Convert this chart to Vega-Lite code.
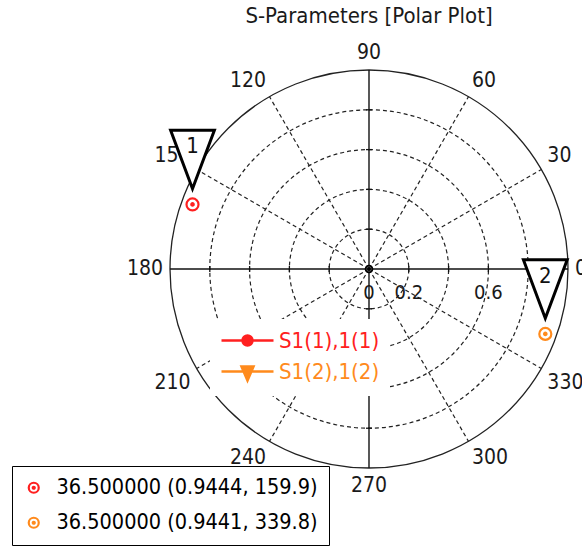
{
  "$schema": "https://vega.github.io/schema/vega-lite/v6.json",
  "width": 582,
  "height": 509,
  "autosize": {"type": "none"},
  "padding": {"top": 40, "left": 0, "right": 0, "bottom": 0},
  "background": "white",
  "title": {"text": "S-Parameters [Polar Plot]", "frame": "group", "anchor": "middle", "dx": 78, "offset": 12, "fontSize": 22, "fontWeight": "normal", "color": "#1a1a1a"},
  "config": {"view": {"stroke": null}, "font": "'DejaVu Sans Condensed', 'Open Sans', sans-serif"},
  "datasets": {
    "circles": [{"r": 0.2}, {"r": 0.4}, {"r": 0.6}, {"r": 0.8}],
    "outer": [{"r": 1}],
    "spokes": [
      {"x": 0, "y": 0, "x2": 0.866, "y2": 0.5},
      {"x": 0, "y": 0, "x2": 0.5, "y2": 0.866},
      {"x": 0, "y": 0, "x2": -0.5, "y2": 0.866},
      {"x": 0, "y": 0, "x2": -0.866, "y2": 0.5},
      {"x": 0, "y": 0, "x2": -0.866, "y2": -0.5},
      {"x": 0, "y": 0, "x2": -0.5, "y2": -0.866},
      {"x": 0, "y": 0, "x2": 0.5, "y2": -0.866},
      {"x": 0, "y": 0, "x2": 0.866, "y2": -0.5}
    ],
    "axes": [{"x": -1, "y": 0, "x2": 1, "y2": 0}, {"x": 0, "y": -1, "x2": 0, "y2": 1}],
    "ticks": [{"t": -0.8}, {"t": -0.6}, {"t": -0.4}, {"t": -0.2}, {"t": 0.2}, {"t": 0.4}, {"t": 0.6}, {"t": 0.8}],
    "origin": [{"x": 0, "y": 0}],
    "angles": [
      {"angle": 0, "label": "0"}, {"angle": 30, "label": "30"}, {"angle": 60, "label": "60"},
      {"angle": 90, "label": "90"}, {"angle": 120, "label": "120"}, {"angle": 150, "label": "150"},
      {"angle": 180, "label": "180"}, {"angle": 210, "label": "210"}, {"angle": 240, "label": "240"},
      {"angle": 270, "label": "270"}, {"angle": 300, "label": "300"}, {"angle": 330, "label": "330"}
    ],
    "rlabels": [{"r": 0, "label": "0"}, {"r": 0.2, "label": "0.2"}, {"r": 0.6, "label": "0.6"}],
    "traces": [
      {"series": "S1(1),1(1)", "x": -0.8869, "y": 0.3246},
      {"series": "S1(2),1(2)", "x": 0.886, "y": -0.3261}
    ],
    "markers": [
      {"marker": "1", "readout": "36.500000 (0.9444, 159.9)", "x": -0.8869, "y": 0.3246},
      {"marker": "2", "readout": "36.500000 (0.9441, 339.8)", "x": 0.886, "y": -0.3261}
    ]
  },
  "layer": [
    {
      "data": {"name": "circles"},
      "mark": {"type": "arc", "filled": false, "stroke": "#222", "strokeWidth": 1.2, "strokeDash": [4, 3], "theta": 0, "theta2": 6.2832},
      "encoding": {
        "x": {"datum": 0, "type": "quantitative", "scale": {"domain": [-1.8543, 1.0704], "nice": false, "zero": false}, "axis": null},
        "y": {"datum": 0, "type": "quantitative", "scale": {"domain": [-1.407, 1.1508], "nice": false, "zero": false}, "axis": null},
        "radius": {"field": "r", "type": "quantitative", "stack": null, "scale": {"type": "linear", "domain": [0, 1], "range": [0, 199], "zero": true, "nice": false}, "legend": null}
      }
    },
    {
      "data": {"name": "outer"},
      "mark": {"type": "arc", "filled": false, "stroke": "#222", "strokeWidth": 1.3, "theta": 0, "theta2": 6.2832},
      "encoding": {
        "x": {"datum": 0, "type": "quantitative"},
        "y": {"datum": 0, "type": "quantitative"},
        "radius": {"field": "r", "type": "quantitative", "stack": null}
      }
    },
    {
      "data": {"name": "spokes"},
      "mark": {"type": "rule", "stroke": "#222", "strokeWidth": 1.2, "strokeDash": [4, 3]},
      "encoding": {
        "x": {"field": "x", "type": "quantitative"},
        "y": {"field": "y", "type": "quantitative"},
        "x2": {"field": "x2"},
        "y2": {"field": "y2"}
      }
    },
    {
      "data": {"name": "axes"},
      "mark": {"type": "rule", "stroke": "#111", "strokeWidth": 1.4},
      "encoding": {
        "x": {"field": "x", "type": "quantitative"},
        "y": {"field": "y", "type": "quantitative"},
        "x2": {"field": "x2"},
        "y2": {"field": "y2"}
      }
    },
    {
      "data": {"name": "ticks"},
      "mark": {"type": "point", "shape": "M0,-1L0,1", "size": 36, "filled": false, "stroke": "#111", "strokeWidth": 1.3, "opacity": 1},
      "encoding": {
        "x": {"field": "t", "type": "quantitative"},
        "y": {"datum": 0, "type": "quantitative"}
      }
    },
    {
      "data": {"name": "ticks"},
      "mark": {"type": "point", "shape": "M-1,0L1,0", "size": 36, "filled": false, "stroke": "#111", "strokeWidth": 1.3, "opacity": 1},
      "encoding": {
        "x": {"datum": 0, "type": "quantitative"},
        "y": {"field": "t", "type": "quantitative"}
      }
    },
    {
      "data": {"name": "origin"},
      "mark": {"type": "point", "shape": "M-1,0A1,1 0 1,0 1,0A1,1 0 1,0 -1,0Z M-0.25,0A0.25,0.25 0 1,0 0.25,0A0.25,0.25 0 1,0 -0.25,0Z", "size": 49, "filled": false, "stroke": "#000", "strokeWidth": 1.6, "opacity": 1},
      "encoding": {
        "x": {"field": "x", "type": "quantitative"},
        "y": {"field": "y", "type": "quantitative"}
      }
    },
    {
      "data": {"name": "angles"},
      "mark": {
        "type": "text", "fontSize": 21, "color": "#1a1a1a",
        "align": {"expr": "datum.angle == 90 || datum.angle == 270 ? 'center' : (datum.angle > 90 && datum.angle < 270 ? 'right' : 'left')"},
        "baseline": {"expr": "datum.angle == 0 || datum.angle == 180 ? 'middle' : (datum.angle < 180 ? 'bottom' : 'top')"}
      },
      "encoding": {
        "x": {"datum": 0, "type": "quantitative"},
        "y": {"datum": 0, "type": "quantitative"},
        "theta": {"field": "angle", "type": "quantitative", "stack": null, "scale": {"domain": [0, 360], "range": [1.5708, -4.7124], "zero": false, "nice": false}},
        "radius": {"datum": 1.035, "type": "quantitative"},
        "text": {"field": "label"}
      }
    },
    {
      "data": {"name": "rlabels"},
      "mark": {"type": "text", "fontSize": 20, "color": "#1a1a1a", "dy": 24, "align": "center"},
      "encoding": {
        "x": {"field": "r", "type": "quantitative"},
        "y": {"datum": 0, "type": "quantitative"},
        "text": {"field": "label"}
      }
    },
    {
      "data": {"name": "traces"},
      "mark": {"type": "point", "opacity": 0, "filled": true, "size": 10},
      "encoding": {
        "x": {"field": "x", "type": "quantitative"},
        "y": {"field": "y", "type": "quantitative"},
        "color": {
          "field": "series", "type": "nominal",
          "scale": {"domain": ["S1(1),1(1)", "S1(2),1(2)"], "range": ["#ff2020", "#ff8a1c"]},
          "legend": {
            "orient": "none", "legendX": 210, "legendY": 279, "title": null,
            "symbolSize": 400, "symbolStrokeWidth": 2.5, "labelFontSize": 22, "labelOffset": 36, "rowPadding": 8,
            "padding": 10, "fillColor": "white", "symbolOpacity": 1,
            "encode": {
              "labels": {"update": {"fill": {"scale": "color", "field": "value"}}},
              "symbols": {"update": {"fill": {"scale": "color", "field": "value"}, "stroke": {"scale": "color", "field": "value"}, "opacity": {"value": 1}, "strokeWidth": {"value": 2.5}}}
            }
          }
        },
        "shape": {
          "field": "series", "type": "nominal",
          "scale": {"domain": ["S1(1),1(1)", "S1(2),1(2)"], "range": ["M-1,0H4.2M1.1,0A0.5,0.5 0 1,0 2.1,0A0.5,0.5 0 1,0 1.1,0Z", "M-1,0H4.2M1,-0.5L2.2,-0.5L1.6,0.9Z"]},
          "legend": {
            "orient": "none", "legendX": 210, "legendY": 279, "title": null,
            "symbolSize": 400, "symbolStrokeWidth": 2.5, "labelFontSize": 22, "labelOffset": 36, "rowPadding": 8,
            "padding": 10, "fillColor": "white", "symbolOpacity": 1
          }
        }
      }
    },
    {
      "data": {"name": "markers"},
      "mark": {"type": "point", "shape": "M-1,0A1,1 0 1,0 1,0A1,1 0 1,0 -1,0Z M-0.2,0A0.2,0.2 0 1,0 0.2,0A0.2,0.2 0 1,0 -0.2,0Z", "size": 144, "filled": false, "strokeWidth": 2.2, "opacity": 1},
      "encoding": {
        "x": {"field": "x", "type": "quantitative"},
        "y": {"field": "y", "type": "quantitative"},
        "stroke": {
          "field": "readout", "type": "nominal",
          "scale": {"domain": ["36.500000 (0.9444, 159.9)", "36.500000 (0.9441, 339.8)"], "range": ["#ff2020", "#ff8a1c"]},
          "legend": {
            "orient": "none", "legendX": 12, "legendY": 426, "title": null,
            "symbolType": "M-1,0A1,1 0 1,0 1,0A1,1 0 1,0 -1,0Z M-0.2,0A0.2,0.2 0 1,0 0.2,0A0.2,0.2 0 1,0 -0.2,0Z",
            "symbolSize": 100, "symbolStrokeWidth": 2.2, "labelFontSize": 21.5, "labelOffset": 12, "labelLimit": 400, "rowPadding": 12,
            "padding": 11, "fillColor": "white", "strokeColor": "#000",
            "encode": {
              "legend": {"update": {"strokeWidth": {"value": 2}}},
              "labels": {"update": {"fill": {"scale": "stroke", "field": "value"}}}
            }
          }
        }
      }
    },
    {
      "data": {"name": "markers"},
      "mark": {"type": "point", "shape": "M0,-0.52L-0.73,-2.47L0.73,-2.47Z", "size": 3600, "filled": true, "fill": "white", "stroke": "#000", "strokeWidth": 3, "opacity": 1},
      "encoding": {
        "x": {"field": "x", "type": "quantitative"},
        "y": {"field": "y", "type": "quantitative"}
      }
    },
    {
      "data": {"name": "markers"},
      "mark": {"type": "text", "fontSize": 22, "color": "#111", "dy": -58, "align": "center", "baseline": "middle"},
      "encoding": {
        "x": {"field": "x", "type": "quantitative"},
        "y": {"field": "y", "type": "quantitative"},
        "text": {"field": "marker"}
      }
    }
  ]
}
